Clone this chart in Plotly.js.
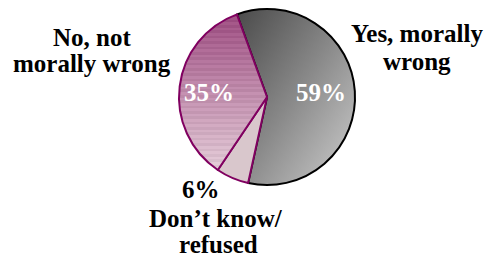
<!DOCTYPE html>
<html>
<head>
<meta charset="utf-8">
<script src="https://cdn.plot.ly/plotly-3.0.1.min.js"></script>
<style>
html,body{margin:0;padding:0;background:#fff;}
#chart{width:487px;height:257px;}
#warm{position:absolute;left:-9999px;top:0;font-family:"Liberation Serif",serif;font-weight:bold;font-size:25px;}
</style>
</head>
<body>
<span id="warm">Yes No 59% 35% 6%</span>
<div id="chart"></div>
<script>
// Data
var categories = ["Yes, morally wrong", "Don\u2019t know/ refused", "No, not morally wrong"];
var values = [59, 6, 35];
var percentLabels = ["59%", "6%", "35%"];
var labelLines = [["Yes, morally", "wrong"], ["Don\u2019t know/", "refused"], ["No, not", "morally wrong"]];

var serif = "Liberation Serif";
var W = 487, H = 257;

var trace = {
  type: "pie",
  labels: categories,
  values: values,
  textinfo: "none",
  sort: false,
  direction: "clockwise",
  rotation: -20,
  hoverinfo: "none",
  showlegend: false,
  marker: {
    colors: ["#8e8e8e", "#d9c7cc", "#b5809f"],
    line: {color: ["#000000", "#800060", "#800060"], width: [2, 2, 2]}
  },
  domain: {x: [0.3676, 0.729], y: [0.28, 0.965]}
};

function ann(text, px, py, color){
  return {text: text, x: px / W, y: 1 - py / H, xref: "paper", yref: "paper",
    showarrow: false, xanchor: "center", yanchor: "middle", align: "center",
    font: {family: serif, size: 25, color: color || "#000000", weight: "bold"}};
}

var layout = {
  width: W, height: H,
  margin: {l: 0, r: 0, t: 0, b: 0},
  paper_bgcolor: "#ffffff",
  showlegend: false,
  annotations: [
    ann(labelLines[0][0], 417, 33.5),
    ann(labelLines[0][1], 417, 61.5),
    ann(labelLines[2][0], 92, 37.5),
    ann(labelLines[2][1], 92, 63.5),
    ann(percentLabels[1], 201, 189.5),
    ann(labelLines[1][0], 216, 218.5),
    ann(labelLines[1][1], 218, 244.5),
    ann(percentLabels[0], 321, 92, "#ffffff"),
    ann(percentLabels[2], 209, 92, "#ffffff")
  ]
};

function addFills(gd){
  var svg = gd.querySelector("svg.main-svg");
  var ns = "http://www.w3.org/2000/svg";
  var defs = svg.querySelector("defs") || svg.insertBefore(document.createElementNS(ns, "defs"), svg.firstChild);
  if (!document.getElementById("gradYes")) {
    var g1 = document.createElementNS(ns, "linearGradient");
    g1.setAttribute("id", "gradYes");
    g1.setAttribute("x1", "0"); g1.setAttribute("y1", "0");
    g1.setAttribute("x2", "1"); g1.setAttribute("y2", "1");
    [["0", "#4a4a4a"], ["0.5", "#8a8a8a"], ["1", "#cfcfcf"]].forEach(function(s){
      var st = document.createElementNS(ns, "stop");
      st.setAttribute("offset", s[0]); st.setAttribute("stop-color", s[1]);
      g1.appendChild(st);
    });
    defs.appendChild(g1);
    var g2 = document.createElementNS(ns, "linearGradient");
    g2.setAttribute("id", "gradNo");
    g2.setAttribute("x1", "0"); g2.setAttribute("y1", "0");
    g2.setAttribute("x2", "0"); g2.setAttribute("y2", "1");
    var n = 58;
    var mix = function(a, b, t){ return Math.round(a + (b - a) * t); };
    for (var i = 0; i < n; i++) {
      var t = i / (n - 1);
      var base = [mix(0x98, 0xdc, t), mix(0x48, 0xc4, t), mix(0x7c, 0xd0, t)];
      var d = (i % 2) ? 10 : 0;
      var c = "rgb(" + Math.min(255, base[0] + d) + "," + Math.min(255, base[1] + d) + "," + Math.min(255, base[2] + d) + ")";
      [i / n, (i + 1) / n].forEach(function(o){
        var st = document.createElementNS(ns, "stop");
        st.setAttribute("offset", o); st.setAttribute("stop-color", c);
        g2.appendChild(st);
      });
    }
    defs.appendChild(g2);
  }
  var paths = gd.querySelectorAll("g.slice path.surface");
  if (paths[0]) paths[0].style.fill = "url(#gradYes)";
  if (paths[2]) paths[2].style.fill = "url(#gradNo)";
}

var cfg = {displayModeBar: false, staticPlot: true};
Plotly.newPlot("chart", [trace], layout, cfg).then(function(gd){
  addFills(gd);
  if (document.fonts && document.fonts.load) {
    document.fonts.load('bold 25px "Liberation Serif"').then(function(){
      return Plotly.react(gd, [trace], layout, cfg);
    }).then(function(){ addFills(gd); }).catch(function(){});
  }
});
</script>
</body>
</html>
